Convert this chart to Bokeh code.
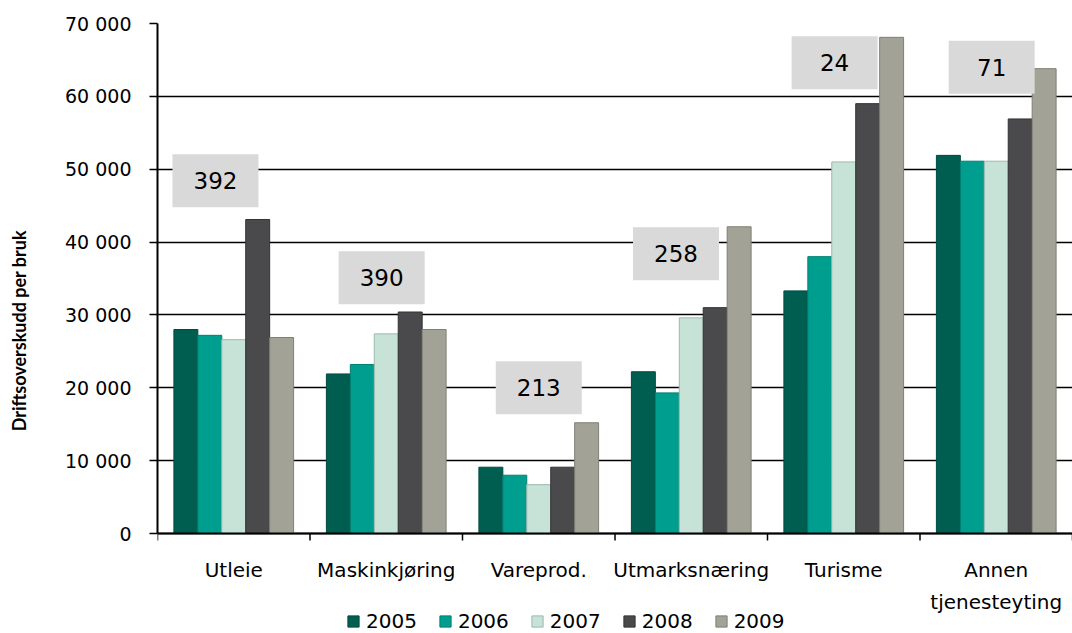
import numpy as np
from bokeh.plotting import figure
from bokeh.models import ColumnDataSource, Range1d, FixedTicker, Legend, LegendItem, Span
from bokeh.transform import dodge
from bokeh.core.properties import value
from bokeh.embed import file_html
from bokeh.resources import INLINE

# ---- data ----
categories = ["Utleie", "Maskinkjøring", "Vareprod.", "Utmarksnæring", "Turisme", "Annen tjenesteyting"]
years = ["2005", "2006", "2007", "2008", "2009"]
v2005 = [28000, 21900, 9100, 22200, 33300, 51900]
v2006 = [27200, 23200, 8000, 19300, 38000, 51100]
v2007 = [26600, 27400, 6700, 29600, 51000, 51100]
v2008 = [43100, 30400, 9100, 31000, 59000, 56900]
v2009 = [26900, 28000, 15200, 42100, 68100, 63800]
counts = ["392", "390", "213", "258", "24", "71"]
count_y = [48400, 35100, 20000, 38400, 64600, 64000]
count_dx = [-0.12, -0.03, 0.0, -0.10, -0.06, -0.03]
y_ticks = [0, 10000, 20000, 30000, 40000, 50000, 60000, 70000]
y_tick_labels = ["0", "10 000", "20 000", "30 000", "40 000", "50 000", "60 000", "70 000"]

fills = ["#005E50", "#009E8F", "#C7E3D8", "#4A4A4D", "#A2A396"]
lines = ["#004A40", "#007F73", "#9DB8AE", "#333335", "#7E8075"]

FONT = "DejaVu Sans"

Y_MAX = 70000
PLOT_PX = 510      # pixel height of the value area (0..70 000)
BELOW_PX = 100     # room below zero for category labels and legend
px = Y_MAX / PLOT_PX   # data units per pixel

centers = list(np.arange(len(categories)) + 0.5)
bounds = list(range(len(categories) + 1))
src = ColumnDataSource(dict(x=centers, y2005=v2005, y2006=v2006, y2007=v2007,
                            y2008=v2008, y2009=v2009))

p = figure(frame_width=915, frame_height=PLOT_PX + BELOW_PX,
           x_range=Range1d(0, len(categories)), y_range=Range1d(-BELOW_PX * px, Y_MAX),
           x_axis_location=None,
           output_backend="svg", toolbar_location=None,
           min_border_left=157, min_border_right=0, min_border_top=23,
           min_border_bottom=0, outline_line_color=None)

# grid
p.xgrid.visible = False
p.ygrid.ticker = FixedTicker(ticks=y_ticks)
p.ygrid.grid_line_color = "black"
p.ygrid.grid_line_width = 1.5

bw = 0.157
renderers = []
for k, yr in enumerate(years):
    r = p.vbar(x=dodge("x", (k - 2) * bw), top="y" + yr, width=bw, source=src,
               fill_color=fills[k], line_color=lines[k], line_width=1)
    renderers.append(r)

# annotation boxes
asrc = ColumnDataSource(dict(x=[c + d for c, d in zip(centers, count_dx)], y=count_y, t=counts))
p.rect(x="x", y="y", width=86, height=53, width_units="screen", height_units="screen",
       source=asrc, fill_color="#D9D9D9", line_color=None)
p.text(x="x", y="y", text="t", source=asrc, text_align="center", text_baseline="middle",
       text_font=value(FONT), text_font_size="23px", text_color="black")

# category axis (line, boundary ticks, labels)
p.add_layout(Span(location=0, dimension="width", line_color="black", line_width=2))
p.segment(x0=bounds, y0=[0] * len(bounds), x1=bounds, y1=[-7 * px] * len(bounds),
          line_color="black", line_width=1.5)
first_lines = [c.split(" ", 1)[0] for c in categories]
second_x = [c for c, n in zip(centers, categories) if " " in n]
second_lines = [n.split(" ", 1)[1] for n in categories if " " in n]
p.text(x=centers, y=[0] * len(centers), text=first_lines, y_offset=36,
       text_align="center", text_baseline="middle", text_font=value(FONT),
       text_font_size="20px", text_color="black")
p.text(x=second_x, y=[0] * len(second_x), text=second_lines, y_offset=68,
       text_align="center", text_baseline="middle", text_font=value(FONT),
       text_font_size="20px", text_color="black")

# y axis
p.yaxis.bounds = (0, Y_MAX)
p.yaxis.ticker = FixedTicker(ticks=y_ticks)
p.yaxis.major_label_overrides = {t: l for t, l in zip(y_ticks, y_tick_labels)}
p.yaxis.minor_tick_line_color = None
p.yaxis.major_tick_out = 8
p.yaxis.major_tick_in = 0
p.yaxis.major_tick_line_width = 1.5
p.yaxis.axis_line_width = 2
p.yaxis.axis_line_color = "black"
p.yaxis.major_label_standoff = 18
p.yaxis.major_label_text_font = FONT
p.yaxis.major_label_text_font_size = "19px"
p.yaxis.major_label_text_color = "black"
p.yaxis.axis_label = "Driftsoverskudd  per bruk"
p.yaxis.axis_label_text_font = "Lato"
p.yaxis.axis_label_text_font_style = "bold"
p.yaxis.axis_label_text_font_size = "18px"
p.yaxis.axis_label_text_color = "black"
p.yaxis.axis_label_standoff = 32

legend = Legend(items=[LegendItem(label=y, renderers=[r]) for y, r in zip(years, renderers)],
                orientation="horizontal", location=(189, 0),
                glyph_width=14, glyph_height=14, label_height=20, label_standoff=6,
                spacing=21, padding=0, margin=0, border_line_color=None,
                background_fill_alpha=0, label_text_font=FONT, label_text_font_size="20px",
                label_text_baseline="middle", label_text_color="black")
p.add_layout(legend, "center")

open("out.html", "w").write(file_html(p, INLINE))
